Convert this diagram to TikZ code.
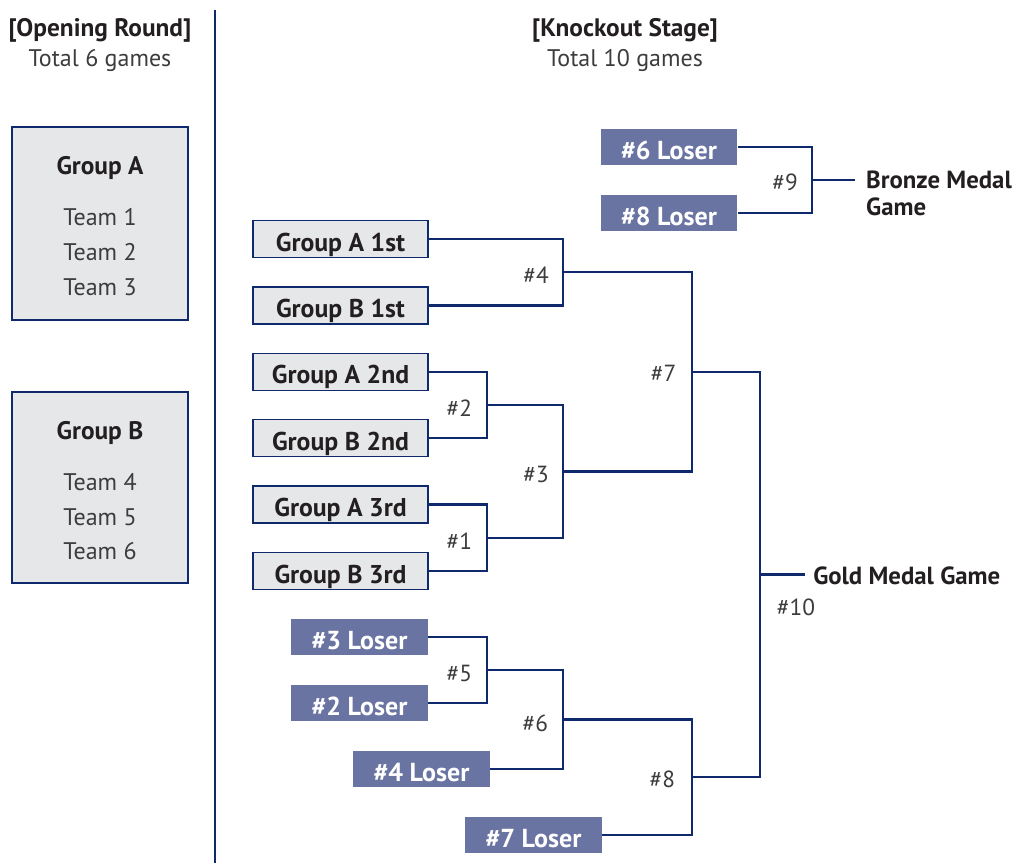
\documentclass[tikz,border=0pt]{standalone}
\usepackage{fontspec}
\setmainfont{PT Sans}
\usetikzlibrary{positioning}
\definecolor{navy}{HTML}{0E2A6C}
\definecolor{slate}{HTML}{6A74A2}
\definecolor{boxgray}{HTML}{E6E7E9}
\definecolor{ink}{HTML}{231F20}
\definecolor{soft}{HTML}{3C3C3C}

\begin{document}
\begin{tikzpicture}[x=0.75pt,y=-0.75pt,
  every node/.style={text=ink},
  seed/.style={draw=navy,line width=1.1pt,fill=boxgray,minimum width=131pt,
               minimum height=27.7pt,inner sep=0pt,text height=19pt,text depth=1pt,
               font=\fontsize{19.3}{22}\selectfont\bfseries},
  loser/.style={fill=slate,text=white,minimum width=102.7pt,minimum height=27.7pt,
                inner sep=0pt,text height=20pt,text depth=1pt,
                font=\fontsize{19.5}{22}\selectfont\bfseries},
  group/.style={draw=navy,line width=1.8pt,fill=boxgray,minimum width=132pt},
  title/.style={font=\fontsize{19}{22}\selectfont\bfseries},
  plain/.style={text=soft,font=\fontsize{18}{22}\selectfont},
  num/.style={text=soft,inner sep=0pt,font=\fontsize{17.5}{20}\selectfont},
  medal/.style={anchor=west,align=left,inner ysep=0pt,
                font=\fontsize{18.6}{20.25}\selectfont\bfseries},
  bracket/.style={draw=navy,line width=1.8pt}]
  \useasboundingbox (0,0) rectangle (1023,863);

  \draw[navy,line width=1.1pt] (215,10) -- (215,863);

  \node[title] (openhead)  at (100,30) {[Opening Round]};
  \node[plain] (opentotal) at (100,60.5) {Total 6 games};
  \node[title] (kohead)    at (625,30) {[Knockout Stage]};
  \node[plain] (kototal)   at (625,60.5) {Total 10 games};

  \node[group,minimum height=144.7pt] (groupA) at (100,223.5) {};
  \node[title] (groupAname) at (100,168) {Group A};
  \node[plain] (team1) at (100,217.5) {Team 1};
  \node[plain] (team2) at (100,252.5) {Team 2};
  \node[plain] (team3) at (100,287.5) {Team 3};

  \node[group,minimum height=143.2pt] (groupB) at (100,487.5) {};
  \node[title] (groupBname) at (100,433) {Group B};
  \node[plain] (team4) at (100,482.5) {Team 4};
  \node[plain] (team5) at (100,517.5) {Team 5};
  \node[plain] (team6) at (100,551.5) {Team 6};

  \node[seed] (a1) at (340.5,239)   {Group A 1st};
  \node[seed] (b1) at (340.5,305.4) {Group B 1st};
  \node[seed] (a2) at (340.5,371.8) {Group A 2nd};
  \node[seed] (b2) at (340.5,438.2) {Group B 2nd};
  \node[seed] (a3) at (340.5,504.6) {Group A 3rd};
  \node[seed] (b3) at (340.5,571)   {Group B 3rd};

  \node[loser] (lose6) at (669,147)   {\#6 Loser};
  \node[loser] (lose8) at (669,213)   {\#8 Loser};
  \node[loser] (lose3) at (359.5,637) {\#3 Loser};
  \node[loser] (lose2) at (359.5,703) {\#2 Loser};
  \node[loser] (lose4) at (421.5,769) {\#4 Loser};
  \node[loser] (lose7) at (533.5,835) {\#7 Loser};

  \coordinate (g9)  at (812,180);
  \coordinate (g4)  at (563,272.2);
  \coordinate (g2)  at (487,405);
  \coordinate (g1)  at (487,537.8);
  \coordinate (g3)  at (563,471.4);
  \coordinate (g7)  at (692,371.8);
  \coordinate (g5)  at (487,670);
  \coordinate (g6)  at (563,719.5);
  \coordinate (g8)  at (692,777);
  \coordinate (g10) at (760,574.4);

  \node[medal,inner xsep=8.2pt] (bronze) at (855,193.5) {Bronze Medal\\Game};
  \node[medal,inner xsep=6pt]   (gold)   at (805,576)   {Gold Medal Game};

  \path[bracket]
        (lose6.east) -| (g9) |- (lose8.east)
        (g9) -- (g9 -| bronze.west)
        (a1.east) -| (g4) |- (b1.east)
        (a2.east) -| (g2) |- (b2.east)
        (a3.east) -| (g1) |- (b3.east)
        (g2) -| (g3) (g1) -| (g3)
        (g4) -| (g7) (g3) -| (g7)
        (lose3.east) -| (g5) |- (lose2.east)
        (g5) -| (g6) |- (lose4.east)
        (g6) -| (g8) |- (lose7.east)
        (g7) -| (g10) (g8) -| (g10)
        (g10) -- (g10 -| gold.west);

  \node[num,left=10.5pt of g9,yshift=-2pt]   (n9) {\#9};
  \node[num,left=10.5pt of g4,yshift=-2.5pt] (n4) {\#4};
  \node[num,left=11pt of g2,yshift=-2.5pt]   (n2) {\#2};
  \node[num,left=11pt of g1,yshift=-2.5pt]   (n1) {\#1};
  \node[num,left=10.5pt of g3,yshift=-2.5pt] (n3) {\#3};
  \node[num,left=11.5pt of g7,yshift=-1pt]   (n7) {\#7};
  \node[num,left=11pt of g5,yshift=-2.5pt]   (n5) {\#5};
  \node[num,left=11pt of g6,yshift=-2.5pt]   (n6) {\#6};
  \node[num,left=12.5pt of g8,yshift=-2pt]   (n8) {\#8};
  \node[num] (n10) at (796,607) {\#10};
\end{tikzpicture}
\end{document}
